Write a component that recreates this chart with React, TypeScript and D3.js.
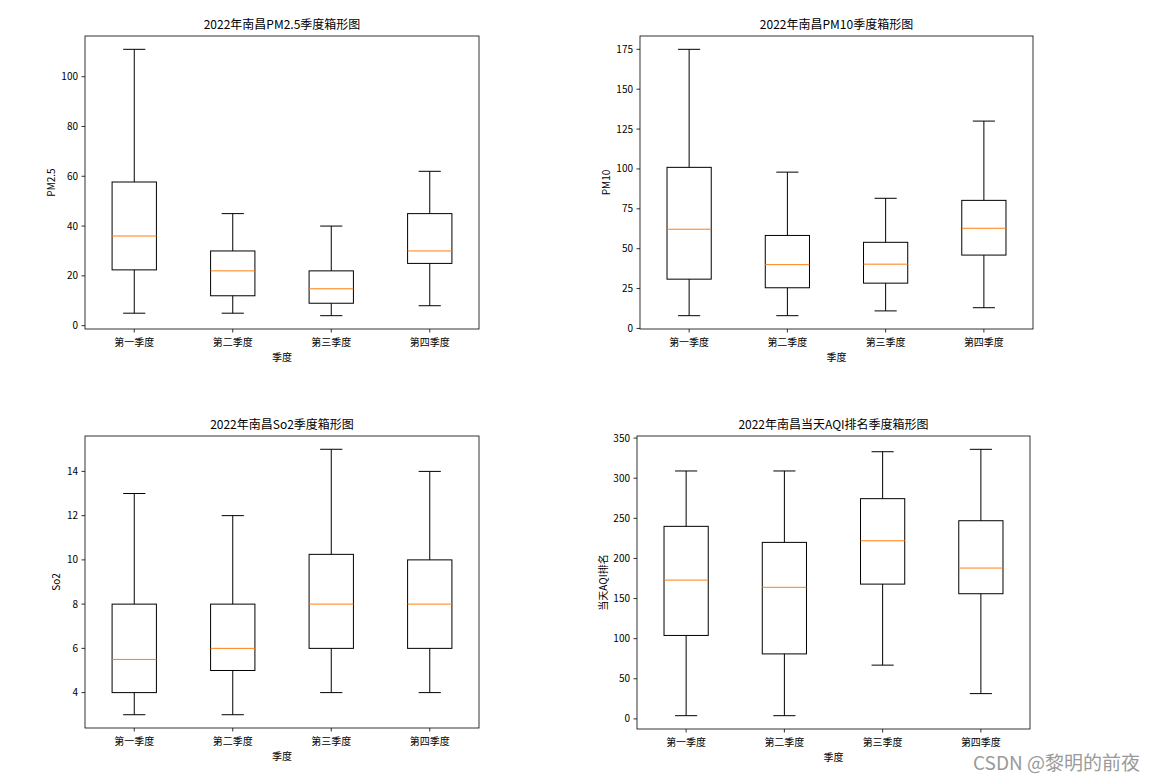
import React from "react";
import * as d3 from "d3";

// quarter categories shared by all four charts
const quarters = ["第一季度", "第二季度", "第三季度", "第四季度"];

// five-number summaries per quarter: [whisker low, Q1, median, Q3, whisker high]
const pm25Stats = [
  [5, 22.4, 36, 57.7, 111],
  [5, 12, 22, 30, 45],
  [4, 9, 14.8, 22, 40],
  [8, 25, 30, 45, 62],
];
const pm10Stats = [
  [8, 30.9, 62.2, 101, 175],
  [8, 25.5, 40, 58.3, 98],
  [11, 28.4, 40.3, 54, 81.6],
  [13, 46, 62.8, 80.3, 130],
];
const so2Stats = [
  [3, 4, 5.5, 8, 13],
  [3, 5, 6, 8, 12],
  [4, 6, 8, 10.25, 15],
  [4, 6, 8, 10, 14],
];
const aqiStats = [
  [4, 104, 173, 240, 309],
  [4, 81, 164, 220, 309],
  [67, 168, 222, 274.5, 333],
  [31.5, 156, 188, 247, 336],
];

const pm25Ticks = [0, 20, 40, 60, 80, 100];
const pm10Ticks = [0, 25, 50, 75, 100, 125, 150, 175];
const so2Ticks = [4, 6, 8, 10, 12, 14];
const aqiTicks = [0, 50, 100, 150, 200, 250, 300, 350];

const FONT = "'Noto Sans CJK SC', 'Noto Sans', sans-serif";

type PanelProps = {
  title: string;
  ylabel: string;
  stats: number[][];
  ticks: number[];
  left: number;
  top: number;
  width: number;
  height: number;
  ylabelX: number;
};

function BoxPanel({ title, ylabel, stats, ticks, left, top, width, height, ylabelX }: PanelProps) {
  const lo = d3.min(stats, (s) => s[0]) as number;
  const hi = d3.max(stats, (s) => s[4]) as number;
  const pad = (hi - lo) * 0.05;
  const y = d3.scaleLinear().domain([lo - pad, hi + pad]).range([top + height, top]);
  const x = d3.scaleLinear().domain([0.5, quarters.length + 0.5]).range([left, left + width]);
  const boxW = x(0.45) - x(0);
  const capW = boxW / 2;
  const right = left + width;
  const bottom = top + height;

  return (
    <g>
      <text x={left + width / 2} y={top - 7} textAnchor="middle" fontSize={12} fontFamily={FONT} fill="#000">
        {title}
      </text>
      {stats.map((s, i) => {
        const cx = x(i + 1);
        return (
          <g key={i} fill="none" strokeWidth={1}>
            <line x1={cx} x2={cx} y1={y(s[0])} y2={y(s[1])} stroke="#000" />
            <line x1={cx} x2={cx} y1={y(s[3])} y2={y(s[4])} stroke="#000" />
            <line x1={cx - capW / 2} x2={cx + capW / 2} y1={y(s[0])} y2={y(s[0])} stroke="#000" />
            <line x1={cx - capW / 2} x2={cx + capW / 2} y1={y(s[4])} y2={y(s[4])} stroke="#000" />
            <rect x={cx - boxW / 2} y={y(s[3])} width={boxW} height={y(s[1]) - y(s[3])} stroke="#000" />
            <line x1={cx - boxW / 2} x2={cx + boxW / 2} y1={y(s[2])} y2={y(s[2])} stroke="#ff7f0e" />
          </g>
        );
      })}
      <rect x={left} y={top} width={width} height={height} fill="none" stroke="#000" strokeWidth={0.8} />
      {ticks.map((t) => (
        <g key={t}>
          <line x1={left - 3.5} x2={left} y1={y(t)} y2={y(t)} stroke="#000" strokeWidth={0.8} />
          <text x={left - 7} y={y(t)} dy="0.35em" textAnchor="end" fontSize={10} fontFamily={FONT} fill="#000">
            {t}
          </text>
        </g>
      ))}
      {quarters.map((q, i) => (
        <g key={q}>
          <line x1={x(i + 1)} x2={x(i + 1)} y1={bottom} y2={bottom + 3.5} stroke="#000" strokeWidth={0.8} />
          <text x={x(i + 1)} y={bottom + 16.5} textAnchor="middle" fontSize={10} fontFamily={FONT} fill="#000">
            {q}
          </text>
        </g>
      ))}
      <text x={left + width / 2} y={bottom + 31.5} textAnchor="middle" fontSize={10} fontFamily={FONT} fill="#000">
        季度
      </text>
      <text
        transform={`translate(${ylabelX},${top + height / 2}) rotate(-90)`}
        dy="0.35em"
        textAnchor="middle"
        fontSize={10}
        fontFamily={FONT}
        fill="#000"
      >
        {ylabel}
      </text>
    </g>
  );
}

export default function App() {
  return (
    <svg
      width={1154}
      height={782}
      style={{ position: "absolute", left: 0, top: 0, background: "#fff" }}
    >
      <rect width={1154} height={782} fill="#fff" />
      <BoxPanel title="2022年南昌PM2.5季度箱形图" ylabel="PM2.5" stats={pm25Stats} ticks={pm25Ticks}
        left={85} top={36} width={394} height={293} ylabelX={51} />
      <BoxPanel title="2022年南昌PM10季度箱形图" ylabel="PM10" stats={pm10Stats} ticks={pm10Ticks}
        left={640} top={36} width={393} height={293} ylabelX={606} />
      <BoxPanel title="2022年南昌So2季度箱形图" ylabel="So2" stats={so2Stats} ticks={so2Ticks}
        left={85} top={436} width={394} height={292} ylabelX={56} />
      <BoxPanel title="2022年南昌当天AQI排名季度箱形图" ylabel="当天AQI排名" stats={aqiStats} ticks={aqiTicks}
        left={637} top={436} width={393} height={293} ylabelX={603} />
      <text x={1140} y={770} textAnchor="end" fontSize={19} fontFamily={FONT} fill="#9a9a9a">
        CSDN @黎明的前夜
      </text>
    </svg>
  );
}
